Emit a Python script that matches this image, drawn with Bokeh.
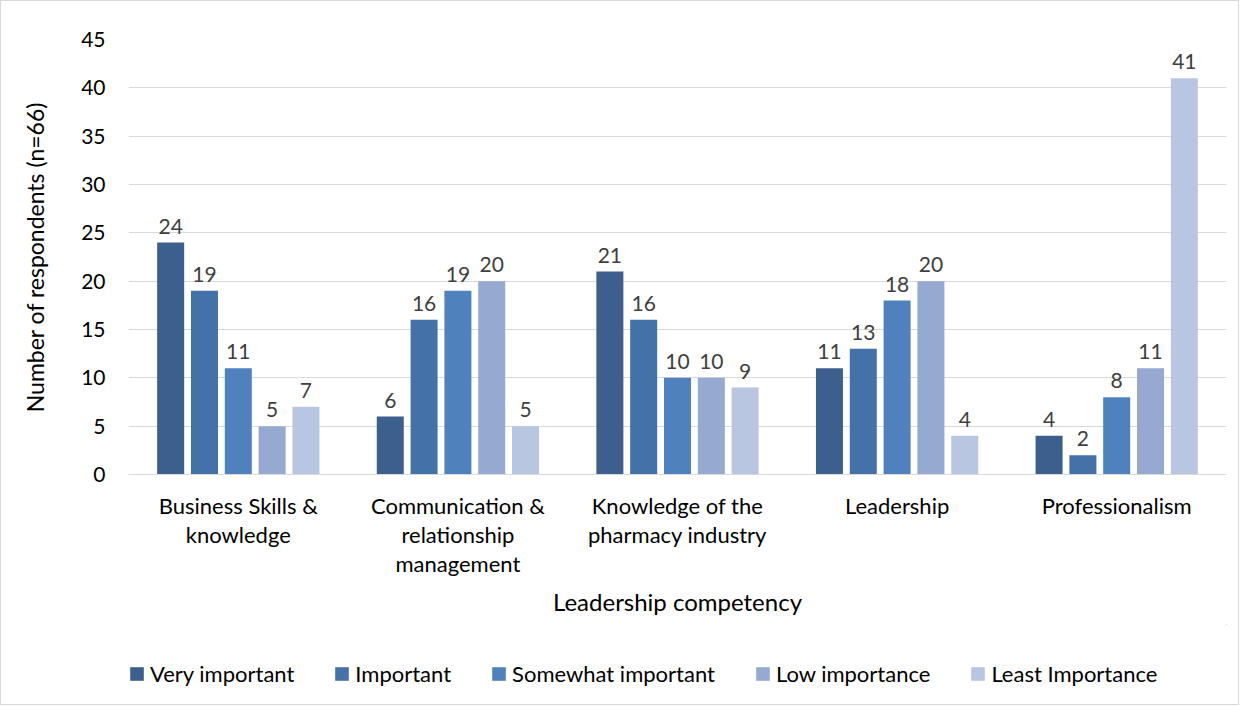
from bokeh.plotting import figure
from bokeh.layouts import column
from bokeh.models import ColumnDataSource, FactorRange, Legend, LegendItem, LabelSet, SingleIntervalTicker
from bokeh.core.properties import value
from bokeh.transform import dodge
from bokeh.embed import file_html
from bokeh.resources import INLINE

categories = ["Business Skills &\nknowledge", "Communication &\nrelationship\nmanagement",
              "Knowledge of the\npharmacy industry", "Leadership", "Professionalism"]
series = ["Very important", "Important", "Somewhat important", "Low importance", "Least Importance"]
very_important = [24, 6, 21, 11, 4]
important = [19, 16, 16, 13, 2]
somewhat_important = [11, 19, 10, 18, 8]
low_importance = [5, 20, 10, 20, 11]
least_importance = [7, 5, 9, 4, 41]
values = [very_important, important, somewhat_important, low_importance, least_importance]
colors = ["#3C5F8E", "#4472A8", "#4F81BD", "#95A9D1", "#B9C6E1"]

FONT = "Lato"
p = figure(x_range=FactorRange(*categories), y_range=(0, 45),
           frame_width=1098, frame_height=435,
           output_backend="svg", toolbar_location=None,
           min_border_left=127, min_border_right=12, min_border_top=38, min_border_bottom=150)
p.outline_line_color = None
p.xgrid.grid_line_color = None
p.ygrid.grid_line_color = "#d9d9d9"
p.ygrid.grid_line_width = 1

for j, (name, vals, col) in enumerate(zip(series, values, colors)):
    src = ColumnDataSource(dict(cat=categories, val=vals, lab=[str(v) for v in vals]))
    off = (j - 2) * 0.154
    p.vbar(x=dodge("cat", off, range=p.x_range), top="val", width=0.123, source=src,
           fill_color=col, line_color=None)
    lbl = LabelSet(x=dodge("cat", off, range=p.x_range), y="val", text="lab", source=src,
                   text_align="center", text_baseline="bottom", y_offset=9,
                   text_font=value(FONT), text_font_size="21px", text_color="#404040")
    p.add_layout(lbl)

p.yaxis.ticker = SingleIntervalTicker(interval=5)
p.yaxis.axis_line_color = None
p.yaxis.major_tick_line_color = None
p.yaxis.minor_tick_line_color = None
p.yaxis.major_label_text_font = FONT
p.yaxis.major_label_text_font_size = "21px"
p.yaxis.major_label_text_color = "#000000"
p.yaxis.major_label_standoff = 17
p.yaxis.axis_label = "Number of respondents (n=66)"
p.yaxis.axis_label_text_font = FONT
p.yaxis.axis_label_text_font_size = "23px"
p.yaxis.axis_label_text_font_style = "normal"
p.yaxis.axis_label_text_color = "#000000"
p.yaxis.axis_label_standoff = 29

p.xaxis.axis_line_color = "#d9d9d9"
p.xaxis.major_tick_line_color = None
p.xaxis.minor_tick_line_color = None
p.xaxis.major_label_text_font = FONT
p.xaxis.major_label_text_font_size = "22px"
p.xaxis.major_label_text_line_height = 1.08
p.xaxis.major_label_text_color = "#000000"
p.xaxis.major_label_standoff = 11
p.xaxis.axis_label = "Leadership competency"
p.xaxis.axis_label_text_font = FONT
p.xaxis.axis_label_text_font_size = "24px"
p.xaxis.axis_label_text_font_style = "normal"
p.xaxis.axis_label_text_color = "#000000"
p.xaxis.axis_label_standoff = 7

# legend-only figure below the chart
lf = figure(width=1237, height=80, x_range=(0, 1), y_range=(0, 1),
            output_backend="svg", toolbar_location=None,
            min_border_left=127, min_border_right=12, min_border_top=0, min_border_bottom=0)
lf.axis.visible = False
lf.grid.visible = False
lf.outline_line_color = None
items = []
for name, col in zip(series, colors):
    r = lf.vbar(x=[50], top=[50], bottom=[40], width=0.1, fill_color=col, line_color=None)
    items.append(LegendItem(label=name, renderers=[r]))
legend = Legend(items=items, orientation="horizontal", location=(0, 17),
                label_text_font=FONT, label_text_font_size="22px", label_text_color="#000000",
                glyph_width=17, glyph_height=17, label_standoff=5, spacing=39,
                border_line_color=None, background_fill_alpha=0, margin=0, padding=0)
lf.add_layout(legend, "center")

layout = column(p, lf, spacing=0)
layout.styles = {"border": "1px solid #d9d9d9"}

open("out.html", "w").write(file_html(layout, INLINE))
